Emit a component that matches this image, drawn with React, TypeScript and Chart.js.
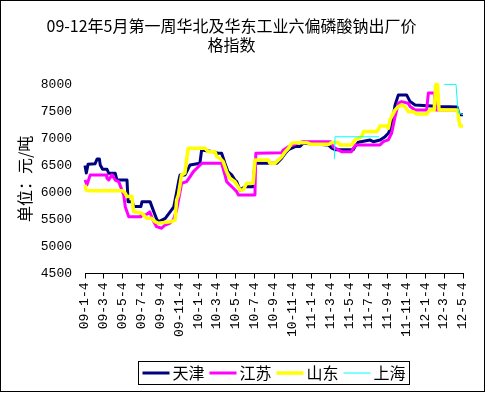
import React, { useEffect, useRef } from 'react';
import { Chart, registerables } from 'chart.js';

Chart.register(...registerables);

const titleLines = ['09-12年5月第一周华北及华东工业六偏磷酸钠出厂价', '格指数'];
const yAxisTitle = '单位：元/吨';
const seriesNames = ['天津', '江苏', '山东', '上海'];
const seriesColors = ['#000080', '#FF00FF', '#FFFF00', '#00FFFF'];
const tickLabels = [
  '09-1-4', '09-3-4', '09-5-4', '09-7-4', '09-9-4', '09-11-4',
  '10-1-4', '10-3-4', '10-5-4', '10-7-4', '10-9-4', '10-11-4',
  '11-1-4', '11-3-4', '11-5-4', '11-7-4', '11-9-4', '11-11-4',
  '12-1-4', '12-3-4', '12-5-4',
];
const yMin = 4500;
const yMax = 8000;
const yStep = 500;

// x values are weeks since 09-1-4
const tianjinWeeks = [
  0, 0.6, 1.4, 4.6, 5.6, 6.6, 7.0, 8.1, 10.1, 10.9, 13.9, 14.7, 19.3, 19.8, 21.6, 22.5, 25.7, 26.2, 29.9,
  31.6, 33.1, 34.0, 36.9, 39.2, 40.8, 42.3, 43.0, 43.7, 46.0, 48.3, 52.8, 53.6, 59.7, 61.1, 62.8, 64.3,
  65.7, 67.4, 68.9, 69.7, 71.2, 73.5, 77.2, 78.1, 88.2, 90.4, 92.0, 93.5, 95.0, 96.5, 98.8, 100.3, 111.8,
  113.4, 114.9, 123.3, 124.1, 125.6, 131.0, 132.5, 135.6, 137.9, 139.4, 140.9, 142.5, 144.0, 147.8, 149.4,
  151.7, 163.1, 171.0, 172.0, 173.7,
];
const tianjinValues = [
  6500, 6360, 6520, 6530, 6620, 6620, 6510, 6430, 6430, 6355, 6355, 6230, 6230, 5830, 5830, 5740, 5740, 5830, 5830,
  5645, 5490, 5460, 5520, 5645, 5735, 6045, 6200, 6325, 6325, 6510, 6540, 6785, 6750, 6725, 6725, 6540,
  6385, 6325, 6230, 6200, 6045, 6105, 6105, 6540, 6540, 6633, 6725, 6790, 6820, 6850, 6850, 6910, 6880,
  6820, 6790, 6790, 6850, 6930, 6970, 6940, 6970, 7033, 7096, 7218, 7620, 7806, 7806, 7682,
  7620, 7590, 7580, 7440, 7440,
];

const jiangsuWeeks = [
  0, 0.9, 2.4, 9.8, 10.1, 10.9, 12.4, 13.9, 15.5, 17.8, 18.5, 19.3, 20.1, 25.3, 25.7, 27.9, 29.8, 31.2,
  32.9, 35.2, 36.8, 39.1, 40.6, 42.1, 43.7, 44.4, 46.7, 48.3, 49.8, 51.4, 52.9, 53.7, 62.8, 64.3, 65.1,
  66.6, 68.2, 69.7, 70.5, 78.1, 78.5, 90.4, 91.2, 93.5, 95.8, 97.3, 100.3, 112.9, 114.1, 116.4, 117.9,
  122.5, 123.3, 124.5, 135.6, 137.1, 139.4, 140.9, 142.5, 144.0, 145.5, 148.5, 149.4, 151.7, 157.0,
  157.8, 160.5, 161.2, 171.0,
];
const jiangsuValues = [
  6230, 6140, 6325, 6325, 6263, 6230, 6325, 6230, 6200, 5953, 5737, 5645, 5550, 5550, 5583, 5583, 5640, 5490,
  5367, 5337, 5398, 5435, 5490, 5676, 6015, 6170, 6200, 6292, 6385, 6448, 6510, 6540, 6540, 6325, 6200,
  6139, 6078, 6015, 5953, 5953, 6725, 6737, 6787, 6848, 6880, 6910, 6940, 6940, 6848, 6787, 6755,
  6755, 6818, 6880, 6880, 6940, 6972, 7096, 7404, 7652, 7682, 7652, 7589, 7528, 7528,
  7840, 7840, 7528, 7528,
];

const shandongWeeks = [
  0, 0.5, 1.7, 17.4, 18.5, 19.3, 21.6, 22.3, 26.1, 28.4, 30.6, 32.2, 33.7, 39.8, 41.4, 42.1, 42.9, 44.4,
  45.9, 46.7, 47.4, 55.1, 56.7, 59.7, 60.5, 62.0, 63.5, 65.1, 66.6, 68.9, 71.2, 72.7, 74.3, 77.3, 78.1,
  84.2, 85.0, 87.3, 90.4, 92.0, 93.5, 95.0, 96.5, 101.9, 104.0, 112.0, 113.4, 116.3, 117.2, 122.5, 124.1,
  127.2, 128.0, 134.1, 134.8, 135.6, 138.7, 139.4, 140.2, 140.9, 142.5, 144.0, 145.5, 147.0, 148.6, 150.9,
  152.4, 157.0, 158.5, 160.5, 161.2, 162.0, 162.7, 171.2, 171.9, 172.4, 173.7,
];
const shandongValues = [
  6139, 6046, 6033, 6033, 5985, 5923, 5923, 5645, 5615, 5522, 5522, 5460, 5430, 5460, 5490, 5861, 5953, 6325,
  6355, 6602, 6818, 6818, 6755, 6755, 6663, 6633, 6570, 6385, 6263, 6200, 6046, 6046, 6170, 6170, 6602,
  6602, 6540, 6540, 6663, 6755, 6818, 6910, 6922, 6922, 6890, 6890, 6926, 6926, 6880, 6880, 6972,
  7033, 7126, 7126, 7170, 7231, 7231, 7188, 7343, 7404, 7528, 7589, 7620, 7589, 7496, 7496,
  7450, 7450, 7528, 7528, 8000, 8000, 7528, 7528, 7311, 7231, 7231,
];

const shanghaiWeeks = [114.6, 114.9, 135.1, 150.0, 165.1, 170.5, 171.2, 171.6, 173.7];
const shanghaiValues = [6615, 7030, 7030, null, 8000, 8000, 7620, 7470, 7440];

const seriesWeeks = [tianjinWeeks, jiangsuWeeks, shandongWeeks, shanghaiWeeks];
const seriesValues = [tianjinValues, jiangsuValues, shandongValues, shanghaiValues];
const seriesWidths = [3, 3, 3.5, 1];

function dayOffset(label: string): number {
  const [yy, mm, dd] = label.split('-').map(Number);
  return (Date.UTC(2000 + yy, mm - 1, dd) - Date.UTC(2009, 0, 4)) / 86400000;
}
const tickWeeks = tickLabels.map((l) => dayOffset(l) / 7);

const CJK = '"Noto Sans CJK SC", sans-serif';
const MONO = '"Liberation Mono", "Noto Sans CJK SC", monospace';

const frameLegendPlugin = {
  id: 'frameLegend',
  afterDraw(chart: any) {
    const ctx = chart.ctx as CanvasRenderingContext2D;
    ctx.save();
    ctx.strokeStyle = '#000';
    ctx.lineWidth = 1;
    ctx.strokeRect(0.5, 0.5, chart.width - 5, chart.height - 2);

    ctx.font = '16px ' + CJK;
    const lineLen = 27;
    const gap = 3;
    const itemGap = 5;
    const pad = 4;
    const items = chart.data.datasets.map((ds: any) => ({
      label: ds.label,
      color: ds.borderColor,
      width: ds.borderWidth,
      tw: ctx.measureText(ds.label).width,
    }));
    let total = pad * 2 + itemGap * (items.length - 1);
    items.forEach((it: any) => { total += lineLen + gap + it.tw; });
    const cx = (chart.chartArea.left + chart.chartArea.right) / 2;
    const left = Math.round(cx - total / 2) + 0.5;
    const top = chart.height - 31.5;
    const h = 23;
    ctx.strokeStyle = '#000';
    ctx.lineWidth = 1;
    ctx.strokeRect(left, top, Math.round(total), h);
    const cy = top + h / 2;
    let x = left + pad;
    ctx.textBaseline = 'middle';
    ctx.textAlign = 'left';
    items.forEach((it: any) => {
      ctx.strokeStyle = it.color;
      ctx.lineWidth = it.width;
      ctx.beginPath();
      ctx.moveTo(x, cy);
      ctx.lineTo(x + lineLen, cy);
      ctx.stroke();
      ctx.fillStyle = '#000';
      ctx.fillText(it.label, x + lineLen + gap, cy);
      x += lineLen + gap + it.tw + itemGap;
    });
    ctx.restore();
  },
};

export default function App() {
  const ref = useRef<HTMLCanvasElement>(null);
  useEffect(() => {
    document.body.style.margin = '0';
    const datasets = seriesNames.map((name, i) => ({
      label: name,
      data: seriesWeeks[i].map((w, j) => ({ x: w, y: seriesValues[i][j] })),
      borderColor: seriesColors[i],
      backgroundColor: seriesColors[i],
      borderWidth: seriesWidths[i],
      pointRadius: 0,
      pointHoverRadius: 0,
      tension: 0,
      fill: false,
      spanGaps: false,
      borderJoinStyle: 'round' as const,
      order: seriesNames.length - i,
      clip: 4,
    }));
    const chart = new Chart(ref.current!, {
      type: 'line',
      data: { datasets },
      options: {
        animation: false,
        responsive: false,
        events: [],
        layout: { padding: { top: 0, left: 0, right: 26, bottom: 49.5 } },
        plugins: {
          legend: { display: false },
          tooltip: { enabled: false },
          title: {
            display: true,
            text: titleLines,
            color: '#000',
            font: { family: CJK, size: 16, weight: 'normal', lineHeight: 1.2 },
            padding: { top: 16, bottom: 30 },
          },
        },
        scales: {
          x: {
            type: 'linear',
            min: 0,
            max: dayOffset(tickLabels[tickLabels.length - 1]) / 7,
            afterBuildTicks: (scale: any) => {
              scale.ticks = tickWeeks.map((v) => ({ value: v }));
            },
            afterFit: (scale: any) => { scale.height = 70; },
            ticks: {
              autoSkip: false,
              maxRotation: 90,
              minRotation: 90,
              padding: 4,
              color: '#000',
              font: { family: MONO, size: 13 },
              callback: (_v: any, i: number) => tickLabels[i],
            },
            grid: { display: true, drawOnChartArea: false, drawTicks: true, tickLength: 5, color: '#000', lineWidth: 1 },
            border: { display: true, color: '#000', width: 1 },
          },
          y: {
            min: yMin,
            max: yMax,
            afterFit: (scale: any) => { scale.width = 85; },
            ticks: {
              stepSize: yStep,
              padding: 13,
              color: '#000',
              font: { family: MONO, size: 13 },
              callback: (v: any) => String(v),
            },
            grid: { display: false, drawTicks: false },
            border: { display: false },
            title: {
              display: true,
              text: yAxisTitle,
              color: '#000',
              font: { family: CJK, size: 16, weight: 'normal', lineHeight: 1.2 },
              padding: { top: 15, bottom: 0 },
            },
          },
        },
      },
      plugins: [frameLegendPlugin],
    });
    return () => chart.destroy();
  }, []);
  return (
    <div style={{ position: 'absolute', left: 0, top: 0, width: 489, height: 393, background: '#fff' }}>
      <canvas ref={ref} width={489} height={393} style={{ display: 'block' }} />
    </div>
  );
}
